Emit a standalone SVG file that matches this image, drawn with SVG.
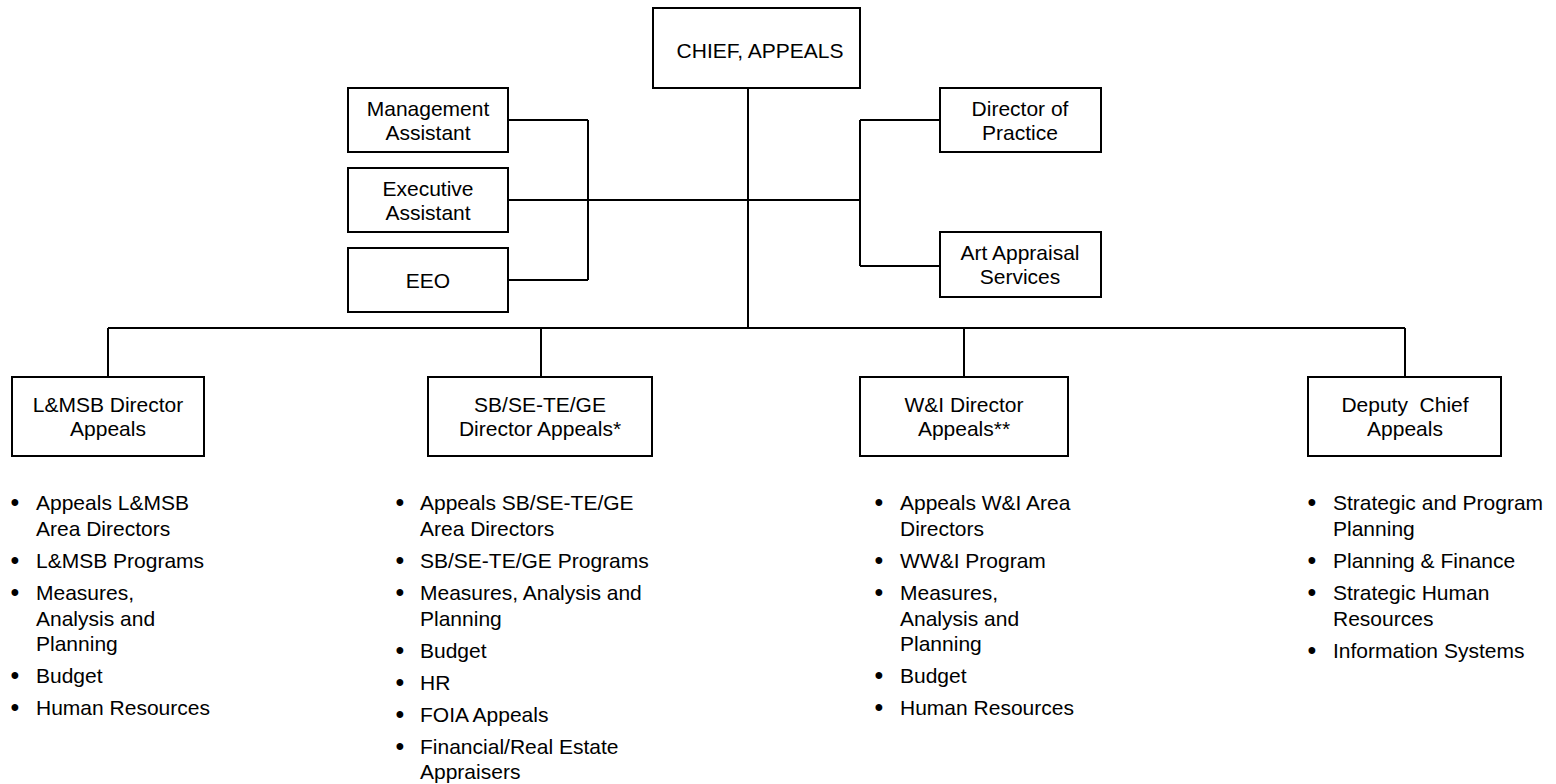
<svg xmlns="http://www.w3.org/2000/svg" width="1556" height="784" viewBox="0 0 1556 784">
<style>
.box{fill:#fff;stroke:#000;stroke-width:2}
.ln{stroke:#000;stroke-width:2;fill:none}
text{font-family:"Liberation Sans",Arial,sans-serif;font-size:21px;fill:#000}
.c{text-anchor:middle}
.b{text-anchor:middle;font-size:25px}
</style>
<rect width="1556" height="784" fill="#fff"/>
<g id="connectors">
<path class="ln" d="M748 88V328M108 328H1405M108 328V377M541 328V377M964 328V377M1405 328V377"/>
<path class="ln" d="M508 200H860M508 120H588M508 280H588M588 120V280"/>
<path class="ln" d="M860 120V266M860 120H940M860 266H940"/>
</g>
<g id="chief">
<rect class="box" x="653" y="8" width="207" height="80"/>
<text class="c" x="760" y="57.5">CHIEF, APPEALS</text>
</g>
<g id="mgmt-assistant">
<rect class="box" x="348" y="88" width="160" height="64"/>
<text class="c" x="428" y="115.5">Management</text>
<text class="c" x="428" y="139.5">Assistant</text>
</g>
<g id="exec-assistant">
<rect class="box" x="348" y="168" width="160" height="64"/>
<text class="c" x="428" y="195.5">Executive</text>
<text class="c" x="428" y="219.5">Assistant</text>
</g>
<g id="eeo">
<rect class="box" x="348" y="248" width="160" height="64"/>
<text class="c" x="428" y="287.5">EEO</text>
</g>
<g id="director-practice">
<rect class="box" x="940" y="88" width="161" height="64"/>
<text class="c" x="1020" y="115.5">Director of</text>
<text class="c" x="1020" y="139.5">Practice</text>
</g>
<g id="art-appraisal">
<rect class="box" x="940" y="232" width="161" height="65"/>
<text class="c" x="1020" y="260">Art Appraisal</text>
<text class="c" x="1020" y="284">Services</text>
</g>
<g id="lmsb">
<rect class="box" x="12" y="377" width="192" height="79"/>
<text class="c" x="108" y="412">L&amp;MSB Director</text>
<text class="c" x="108" y="436">Appeals</text>
<text class="b" x="15" y="510.5">•</text><text x="36" y="509.5">Appeals L&amp;MSB</text>
<text x="36" y="535.5">Area Directors</text>
<text class="b" x="15" y="568.5">•</text><text x="36" y="567.5">L&amp;MSB Programs</text>
<text class="b" x="15" y="600.5">•</text><text x="36" y="599.5">Measures,</text>
<text x="36" y="625.5">Analysis and</text>
<text x="36" y="651">Planning</text>
<text class="b" x="15" y="684">•</text><text x="36" y="683">Budget</text>
<text class="b" x="15" y="716">•</text><text x="36" y="715">Human Resources</text>
</g>
<g id="sbse">
<rect class="box" x="428" y="377" width="224" height="79"/>
<text class="c" x="540" y="412">SB/SE-TE/GE</text>
<text class="c" x="540" y="436">Director Appeals*</text>
<text class="b" x="400" y="510.5">•</text><text x="420" y="509.5">Appeals SB/SE-TE/GE</text>
<text x="420" y="535.5">Area Directors</text>
<text class="b" x="400" y="568.5">•</text><text x="420" y="567.5">SB/SE-TE/GE Programs</text>
<text class="b" x="400" y="600.5">•</text><text x="420" y="599.5">Measures, Analysis and</text>
<text x="420" y="625.5">Planning</text>
<text class="b" x="400" y="658.5">•</text><text x="420" y="657.5">Budget</text>
<text class="b" x="400" y="690.5">•</text><text x="420" y="689.5">HR</text>
<text class="b" x="400" y="722.5">•</text><text x="420" y="721.5">FOIA Appeals</text>
<text class="b" x="400" y="754.5">•</text><text x="420" y="753.5">Financial/Real Estate</text>
<text x="420" y="779">Appraisers</text>
</g>
<g id="wi">
<rect class="box" x="860" y="377" width="208" height="79"/>
<text class="c" x="964" y="412">W&amp;I Director</text>
<text class="c" x="964" y="436">Appeals**</text>
<text class="b" x="879" y="510.5">•</text><text x="900" y="509.5">Appeals W&amp;I Area</text>
<text x="900" y="535.5">Directors</text>
<text class="b" x="879" y="568.5">•</text><text x="900" y="567.5">WW&amp;I Program</text>
<text class="b" x="879" y="600.5">•</text><text x="900" y="599.5">Measures,</text>
<text x="900" y="625.5">Analysis and</text>
<text x="900" y="651">Planning</text>
<text class="b" x="879" y="684">•</text><text x="900" y="683">Budget</text>
<text class="b" x="879" y="716">•</text><text x="900" y="715">Human Resources</text>
</g>
<g id="deputy">
<rect class="box" x="1308" y="377" width="193" height="79"/>
<text class="c" x="1405" y="412" xml:space="preserve">Deputy  Chief</text>
<text class="c" x="1405" y="436">Appeals</text>
<text class="b" x="1312" y="510.5">•</text><text x="1333" y="509.5">Strategic and Program</text>
<text x="1333" y="535.5">Planning</text>
<text class="b" x="1312" y="568.5">•</text><text x="1333" y="567.5">Planning &amp; Finance</text>
<text class="b" x="1312" y="600.5">•</text><text x="1333" y="599.5">Strategic Human</text>
<text x="1333" y="625.5">Resources</text>
<text class="b" x="1312" y="658.5">•</text><text x="1333" y="657.5">Information Systems</text>
</g>
</svg>
